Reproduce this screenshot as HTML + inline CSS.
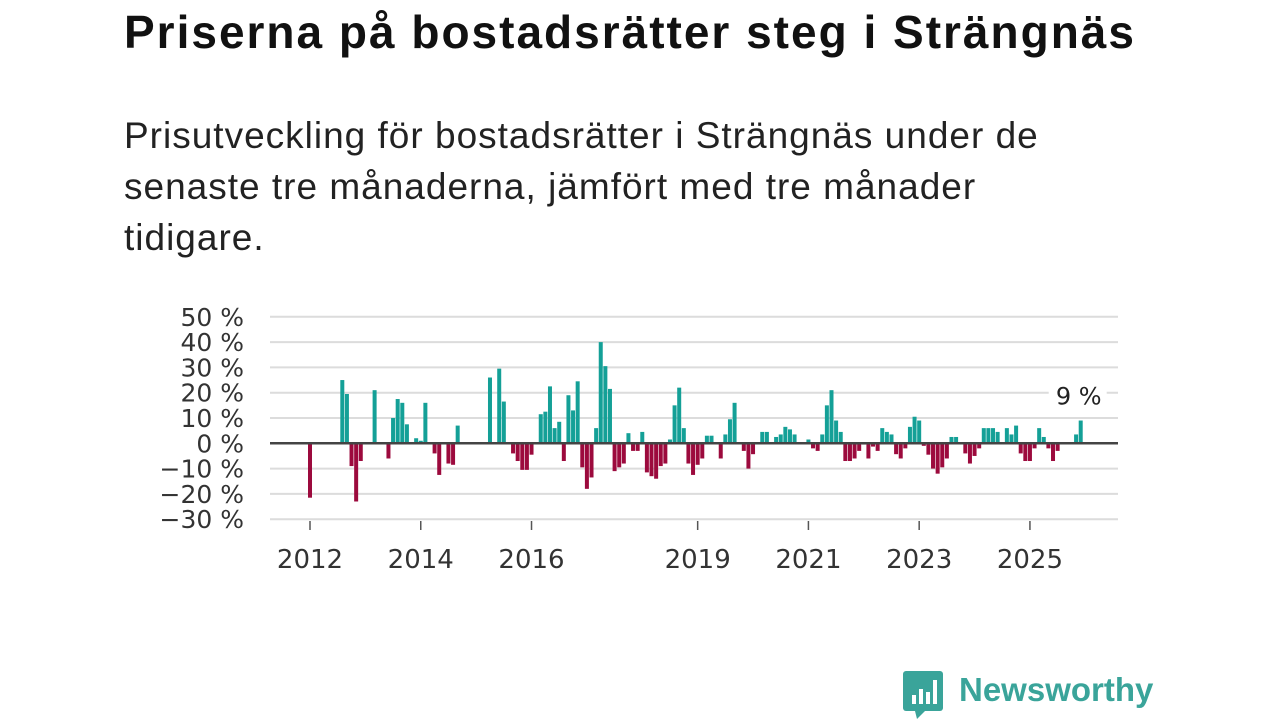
<!DOCTYPE html>
<html><head><meta charset="utf-8">
<style>
body{margin:0;width:1280px;height:720px;background:#fff;overflow:hidden;font-family:"Liberation Sans",sans-serif;color:#111}
h1{position:absolute;left:124px;top:5px;margin:0;font-size:46px;font-weight:bold;letter-spacing:2px;white-space:nowrap}
p.sub{position:absolute;left:124px;top:110px;margin:0;font-size:37px;line-height:51px;width:1100px;color:#222;letter-spacing:1px;white-space:nowrap}
svg{position:absolute;left:0;top:0}
.logo{position:absolute;left:903px;top:671px}
.logo span{position:absolute;left:56px;top:0px;font-size:33px;font-weight:bold;color:#3aa49a;white-space:nowrap}
</style></head><body>
<h1>Priserna på bostadsrätter steg i Strängnäs</h1>
<p class="sub">Prisutveckling för bostadsrätter i Strängnäs under de<br>senaste tre månaderna, jämfört med tre månader<br>tidigare.</p>
<svg id="chart" width="1280" height="720"></svg>
<div class="logo">
<svg width="42" height="48" viewBox="0 0 42 48" style="position:absolute;left:0;top:0">
<rect x="0" y="0" width="40" height="40" rx="3" fill="#3aa49a"/>
<polygon points="12,40 22,40 14,48" fill="#3aa49a"/>
<rect x="9" y="24" width="4" height="9" fill="#fff"/><rect x="16" y="18" width="4" height="15" fill="#fff"/><rect x="23" y="21" width="4" height="12" fill="#fff"/><rect x="30" y="9" width="4" height="24" fill="#fff"/>
</svg>
<span>Newsworthy</span>
</div>
<script>
const values = [-21.5,0,0,0,0,0,0,25,19.5,-9,-23,-7,0,0,21,0,0,-6,10,17.5,16,7.5,0,2,1,16,0,-4,-12.5,0,-8,-8.5,7,0,0,0,0,0,0,26,0,29.5,16.5,0,-4,-7,-10.5,-10.5,-4.5,0,11.5,12.5,22.5,6,8.5,-7,19,13,24.5,-9.5,-18,-13.5,6,40,30.5,21.5,-11,-9.5,-8,4,-3,-3,4.5,-11.5,-13,-14,-9,-8,1.5,15,22,6,-8,-12.5,-8.5,-6,3,3,0,-6,3.5,9.5,16,0.5,-3,-10,-4.3,0,4.5,4.5,0.5,2.5,3.5,6.5,5.5,3.5,0,0,1.5,-2,-3,3.5,15,21,9,4.5,-7,-7,-6,-3,-0.5,-6,-1.3,-3,6,4.5,3.5,-4.3,-6,-2,6.5,10.5,9,-1,-4.5,-10,-12,-9.5,-6,2.5,2.5,0,-4,-8,-5,-2,6,6,6,4.5,0.5,6,3.5,7,-4,-7,-7,-2,6,2.5,-2,-7,-3,0.5,0,0.5,3.5,9];
const startYear = 2012;
const yTicks = [50,40,30,20,10,0,-10,-20,-30];
const yTickLabels = ["50 %","40 %","30 %","20 %","10 %","0 %","−10 %","−20 %","−30 %"];
const xTickYears = [2012,2014,2016,2019,2021,2023,2025];
const lastLabel = "9 %";

const NS="http://www.w3.org/2000/svg";
const svg=document.getElementById('chart');
const X0=310, MW=4.615, PL=270, PR=1118;
const FF='DejaVu Sans, sans-serif';
const y=v=>443.3-v*2.53;
const x=i=>X0+i*MW;
function mk(t,a){const e=document.createElementNS(NS,t);for(const k in a)e.setAttribute(k,a[k]);svg.appendChild(e);return e;}
yTicks.forEach((t,k)=>{
  if(t!==0){const l=mk('line',{x1:PL,x2:PR,y1:y(t),y2:y(t),stroke:'#dcdcdc','stroke-width':2});
  
  }
  const tx=mk('text',{x:244,y:y(t)+9,'text-anchor':'end','font-size':25,fill:'#333','font-family':FF});
  tx.textContent=yTickLabels[k];
  
  
});
values.forEach((v,i)=>{
  if(v===0)return;
  const r=mk('rect',{x:x(i)-2,width:4,y:Math.min(y(v),y(0)),height:Math.abs(y(v)-y(0)),fill:v>0?'#14a097':'#9c0a3d'});
  
  
});
const z=mk('line',{x1:PL,x2:PR,y1:y(0),y2:y(0),stroke:'#444','stroke-width':2.5});


xTickYears.forEach(yr=>{
  const xi=x((yr-startYear)*12);
  const tk=mk('line',{x1:xi,x2:xi,y1:521,y2:530,stroke:'#555','stroke-width':1.5});
  
  
  const t=mk('text',{x:xi,y:568,'text-anchor':'middle','font-size':26,fill:'#333','font-family':FF});
  t.textContent=yr;
  
  
});
const li=values.length-1;
const bg=mk('rect',{x:x(li)-32,y:y(values[li])-42,width:58,height:32,fill:'#fff'});


const lb=mk('text',{x:x(li)-2,y:y(values[li])-16,'text-anchor':'middle','font-size':24,fill:'#222','font-family':FF});
lb.textContent=lastLabel;


</script>
</body></html>
